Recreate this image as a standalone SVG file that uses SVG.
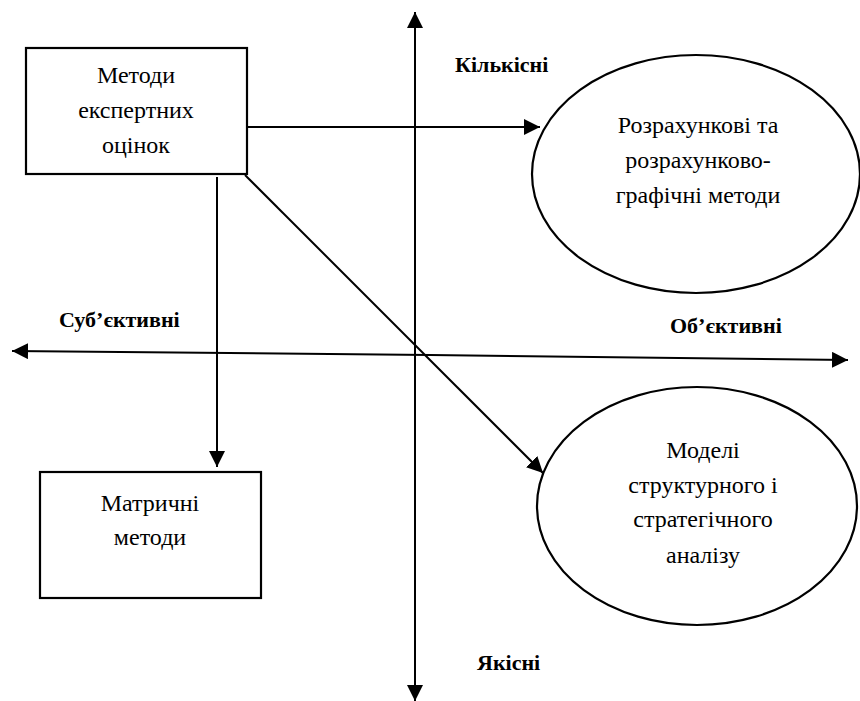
<svg xmlns="http://www.w3.org/2000/svg" width="860" height="701" viewBox="0 0 860 701">
<defs>
<marker id="ah" viewBox="0 0 16 16" refX="16" refY="8" markerWidth="16" markerHeight="16" markerUnits="userSpaceOnUse" orient="auto">
<path d="M0,0 L16,8 L0,16 Z" fill="#000"/>
</marker>
</defs>
<style>
.box{fill:#fff;stroke:#000;stroke-width:2.2}
.ln{fill:none;stroke:#000;stroke-width:2}
.t{font-size:24px;text-anchor:middle}
.b{font-size:22px;font-weight:bold}
</style>
<rect width="860" height="701" fill="#fff"/>
<g id="connectors">
<line class="ln" x1="415" y1="690" x2="415" y2="12" marker-end="url(#ah)"/>
<line class="ln" x1="415" y1="30" x2="415" y2="701" marker-end="url(#ah)"/>
<line class="ln" x1="430" y1="355" x2="848" y2="360" marker-end="url(#ah)"/>
<line class="ln" x1="430" y1="355" x2="12" y2="351" marker-end="url(#ah)"/>
<line class="ln" x1="247" y1="127" x2="540" y2="127" marker-end="url(#ah)"/>
<line class="ln" x1="217" y1="177" x2="217" y2="467" marker-end="url(#ah)"/>
<line class="ln" x1="245" y1="175" x2="543" y2="473" marker-end="url(#ah)"/>
</g>
<g font-family="Liberation Serif, Times New Roman, serif" fill="#000">
<g id="axis-labels">
<text class="b" x="455" y="72">Кількісні</text>
<text class="b" x="59" y="327">Суб’єктивні</text>
<text class="b" x="670" y="333">Об’єктивні</text>
<text class="b" x="477" y="670">Якісні</text>
</g>
<g id="expert">
<rect class="box" x="26" y="48" width="221" height="126"/>
<text class="t" x="136" y="83">Методи</text>
<text class="t" x="136" y="118">експертних</text>
<text class="t" x="136" y="153">оцінок</text>
</g>
<g id="calc">
<ellipse class="box" cx="696" cy="174" rx="164" ry="119"/>
<text class="t" x="698" y="133">Розрахункові та</text>
<text class="t" x="698" y="168">розрахунково-</text>
<text class="t" x="698" y="203">графічні методи</text>
</g>
<g id="matrix">
<rect class="box" x="40" y="472" width="221" height="126"/>
<text class="t" x="150" y="511">Матричні</text>
<text class="t" x="150" y="545">методи</text>
</g>
<g id="models">
<ellipse class="box" cx="697" cy="506" rx="160" ry="119"/>
<text class="t" x="703" y="458">Моделі</text>
<text class="t" x="703" y="493">структурного і</text>
<text class="t" x="703" y="527">стратегічного</text>
<text class="t" x="703" y="563">аналізу</text>
</g>
</g>
</svg>
